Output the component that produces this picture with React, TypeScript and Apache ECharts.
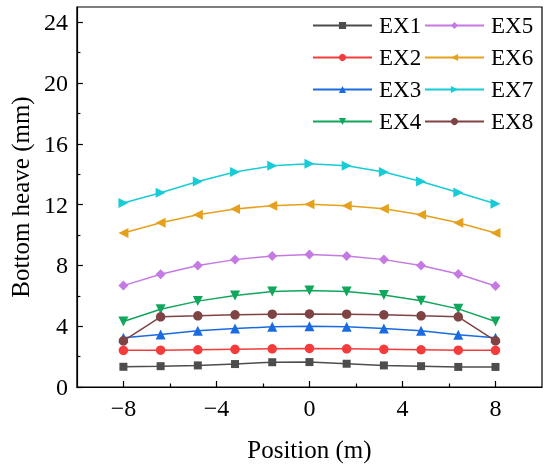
import React, { useEffect, useRef } from "react";
import * as echarts from "echarts";

const positions = [-8, -6.4, -4.8, -3.2, -1.6, 0, 1.6, 3.2, 4.8, 6.4, 8];
const seriesNames = ["EX1", "EX2", "EX3", "EX4", "EX5", "EX6", "EX7", "EX8"];
const ex1 = [1.33, 1.37, 1.42, 1.51, 1.63, 1.64, 1.53, 1.42, 1.37, 1.32, 1.32];
const ex2 = [2.41, 2.42, 2.45, 2.48, 2.51, 2.54, 2.51, 2.48, 2.45, 2.42, 2.41];
const ex3 = [3.24, 3.46, 3.7, 3.85, 3.96, 4.0, 3.96, 3.85, 3.7, 3.44, 3.24];
const ex4 = [4.31, 5.12, 5.65, 6.02, 6.28, 6.35, 6.28, 6.06, 5.67, 5.14, 4.31];
const ex5 = [6.67, 7.42, 7.99, 8.38, 8.62, 8.71, 8.62, 8.38, 7.99, 7.44, 6.65];
const ex6 = [10.13, 10.81, 11.33, 11.71, 11.93, 12.03, 11.93, 11.73, 11.33, 10.81, 10.13];
const ex7 = [12.1, 12.78, 13.52, 14.14, 14.55, 14.68, 14.55, 14.14, 13.52, 12.8, 12.06];
const ex8 = [3.04, 4.62, 4.68, 4.75, 4.79, 4.81, 4.79, 4.75, 4.68, 4.62, 3.04];
const allValues = [ex1, ex2, ex3, ex4, ex5, ex6, ex7, ex8];

const xMajorTicks = [-8, -4, 0, 4, 8];
const xMinorTicks = [-6, -2, 2, 6];
const yMajorTicks = [0, 4, 8, 12, 16, 20, 24];
const yMinorTicks = [2, 6, 10, 14, 18, 22];

const colors = ["#4d4d4d", "#f53c3c", "#1a6be0", "#10a65c", "#c57ae3", "#e5a11c", "#17ccd6", "#7e4343"];
const symbols = [
  "rect",
  "circle",
  "triangle",
  "path://M0,0L10,0L5,10Z",
  "diamond",
  "path://M10,0L0,5L10,10Z",
  "path://M0,0L10,5L0,10Z",
  "circle",
];
const symbolSizes = [8, 9.5, 10, 10, 10, 10, 10, 9.5];

const FONT = "Liberation Serif, Times New Roman, serif";

export default function App() {
  const ref = useRef<HTMLDivElement>(null);
  useEffect(() => {
    if (!ref.current) return;
    const chart = echarts.init(ref.current, undefined, { renderer: "svg" });
    const minus = (v: number) => (v < 0 ? "\u2212" + Math.abs(v) : String(v));
    const tickStyle = { color: "#000", width: 1.2 };
    const series = seriesNames.map((name, i) => ({
      name,
      type: "line",
      xAxisIndex: 0,
      yAxisIndex: 0,
      data: positions.map((p, j) => [p, allValues[i][j]]),
      symbol: symbols[i],
      symbolSize: symbolSizes[i],
      showAllSymbol: true,
      lineStyle: { color: colors[i], width: 1.5 },
      itemStyle: { color: colors[i] },
      emphasis: { disabled: true },
    }));
    const legendCommon = {
      orient: "vertical",
      top: 14,
      padding: 0,
      itemWidth: 59,
      itemHeight: 9,
      itemGap: 9,
      textStyle: { fontFamily: FONT, fontSize: 23, color: "#000", lineHeight: 23, padding: [0, 0, 0, 2] },
    };
    chart.setOption({
      animation: false,
      grid: {
        left: 70,
        right: 8,
        top: 7,
        bottom: 81,
        show: true,
        borderColor: "#000",
        borderWidth: 1.2,
        backgroundColor: "transparent",
      },
      legend: [
        { ...legendCommon, left: 312, data: seriesNames.slice(0, 4) },
        { ...legendCommon, left: 424, data: seriesNames.slice(4, 8) },
      ],
      xAxis: [
        {
          type: "value",
          position: "bottom",
          min: -10,
          max: 10,
          name: "Position (m)",
          nameLocation: "middle",
          nameGap: 50,
          nameTextStyle: { fontFamily: FONT, fontSize: 25, color: "#000" },
          axisLine: { show: true, onZero: false, lineStyle: { color: "#000", width: 1.2 } },
          splitLine: { show: false },
          axisTick: { show: true, inside: true, length: 6, lineStyle: tickStyle, customValues: xMajorTicks },
          axisLabel: { fontFamily: FONT, fontSize: 24, color: "#000", margin: 9, customValues: xMajorTicks, formatter: minus },
        },
        {
          type: "value",
          position: "bottom",
          min: -10,
          max: 10,
          axisLine: { show: false, onZero: false },
          splitLine: { show: false },
          axisTick: { show: true, inside: true, length: 3.5, lineStyle: tickStyle, customValues: xMinorTicks },
          axisLabel: { show: false },
        },
      ],
      yAxis: [
        {
          type: "value",
          position: "left",
          min: 0,
          max: 25,
          name: "Bottom heave (mm)",
          nameLocation: "middle",
          nameGap: 42,
          nameTextStyle: { fontFamily: FONT, fontSize: 25, color: "#000" },
          axisLine: { show: true, onZero: false, lineStyle: { color: "#000", width: 1.2 } },
          splitLine: { show: false },
          axisTick: { show: true, inside: true, length: 6, lineStyle: tickStyle, customValues: yMajorTicks },
          axisLabel: { fontFamily: FONT, fontSize: 24, color: "#000", margin: 9, customValues: yMajorTicks },
        },
        {
          type: "value",
          position: "left",
          min: 0,
          max: 25,
          axisLine: { show: false, onZero: false },
          splitLine: { show: false },
          axisTick: { show: true, inside: true, length: 3.5, lineStyle: tickStyle, customValues: yMinorTicks },
          axisLabel: { show: false },
        },
      ],
      series,
    });
    return () => chart.dispose();
  }, []);
  return <div ref={ref} style={{ position: "fixed", left: 0, top: 0, width: 550, height: 468 }} />;
}
